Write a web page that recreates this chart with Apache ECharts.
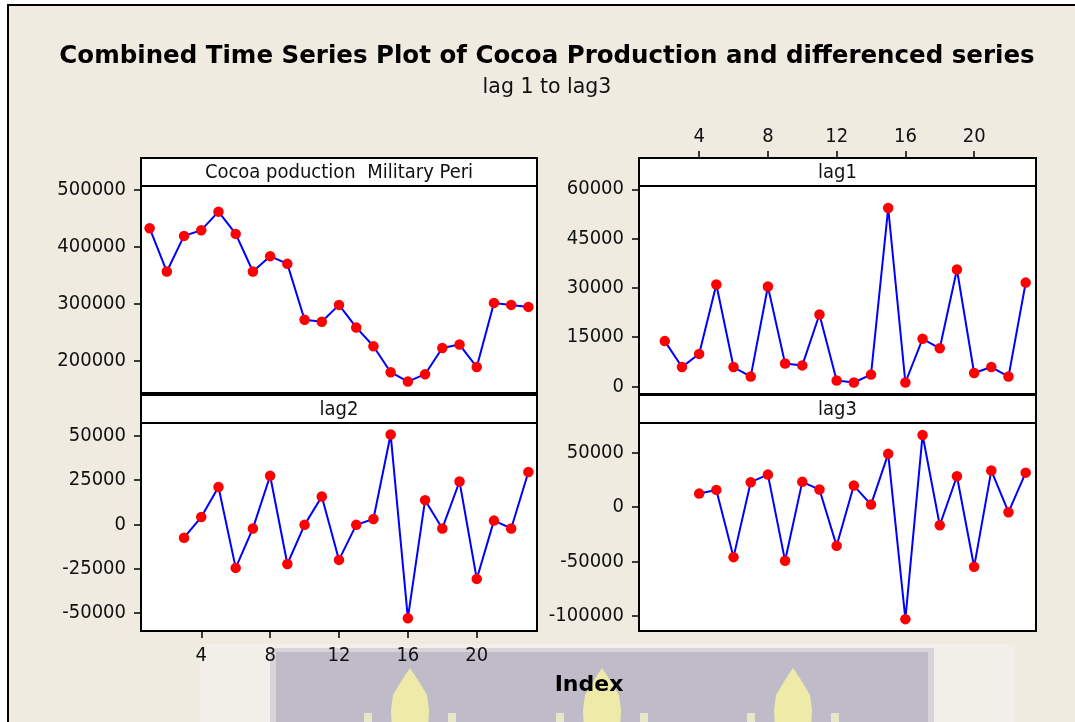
<!DOCTYPE html>
<html>
<head>
<meta charset="utf-8">
<title>Combined Time Series Plot of Cocoa Production</title>
<script src="https://cdn.jsdelivr.net/npm/echarts@6/dist/echarts.min.js"></script>
<style>
  html, body { margin: 0; padding: 0; background: #ffffff; }
  #chart { width: 1075px; height: 722px; }
</style>
</head>
<body>
<div id="chart"></div>
<script>
// Index ticks shared by the two x axes that show labels
const indexTicks = [4, 8, 12, 16, 20];

// Cocoa production, index 1..23
const cocoaStart = 1;
const cocoaProduction = [
  432000, 356000, 418500, 428500, 461000, 422000, 356000, 383000, 369500, 271500,
  268000, 297500, 258000, 225000, 179500, 163000, 176000, 222000, 228000, 188500,
  301000, 297500, 294000
];

// First differenced series, index 2..23
const lag1Start = 2;
const lag1 = [
  13800, 5900, 9900, 31000, 5900, 3000, 30400, 7000, 6400, 21900,
  1800, 1200, 3600, 54300, 1200, 14500, 11600, 35600, 4100, 5900,
  3000, 31600
];

// Second differenced series, index 3..23
const lag2Start = 3;
const lag2 = [
  -7500, 4100, 21000, -24500, -2300, 27300, -22300, -300, 15700, -20000,
  -300, 3000, 50500, -52800, 13600, -2300, 24100, -30700, 2100, -2300,
  29400
];

// Third differenced series, index 4..23
const lag3Start = 4;
const lag3 = [
  12500, 15900, -46000, 23000, 30000, -49400, 23300, 16200, -35600, 19900,
  2400, 49100, -103100, 66500, -16600, 28500, -54900, 33700, -4600, 31800
];

// Value-axis tick labels for each panel
const cocoaTicks = [200000, 300000, 400000, 500000];
const lag1Ticks = [0, 15000, 30000, 45000, 60000];
const lag2Ticks = [-50000, -25000, 0, 25000, 50000];
const lag3Ticks = [-100000, -50000, 0, 50000];

const panelTitles = ['Cocoa poduction  Military Peri', 'lag1', 'lag2', 'lag3'];

const FONT = '"DejaVu Sans Condensed", "DejaVu Sans", sans-serif';
const WIDE_FONT = '"DejaVu Sans", sans-serif';

function toPairs(values, start) {
  return values.map((v, i) => [start + i, v]);
}

// Panel plot areas (pixels)
const panels = [
  { left: 141, top: 186, width: 396, height: 207, xMax: 23.5, yMin: 143000, yMax: 506000, ticks: cocoaTicks, data: toPairs(cocoaProduction, cocoaStart), xMode: 'none' },
  { left: 639, top: 186, width: 397, height: 208, xMax: 23.6, yMin: -2300, yMax: 61000, ticks: lag1Ticks, data: toPairs(lag1, lag1Start), xMode: 'top' },
  { left: 141, top: 423, width: 396, height: 208, xMax: 23.5, yMin: -60000, yMax: 57000, ticks: lag2Ticks, data: toPairs(lag2, lag2Start), xMode: 'bottom' },
  { left: 639, top: 423, width: 397, height: 208, xMax: 23.6, yMin: -114000, yMax: 77500, ticks: lag3Ticks, data: toPairs(lag3, lag3Start), xMode: 'none' }
];
const HEADER_H = 28;

const grids = [], xAxes = [], yAxes = [], series = [], headerGraphics = [];

panels.forEach((p, i) => {
  grids.push({
    left: p.left, top: p.top, width: p.width, height: p.height,
    show: true, backgroundColor: '#ffffff', borderColor: '#000000', borderWidth: 2
  });
  const showX = p.xMode !== 'none';
  xAxes.push({
    type: 'value', gridIndex: i, min: 0.5, max: p.xMax,
    position: p.xMode === 'top' ? 'top' : 'bottom',
    offset: p.xMode === 'top' ? HEADER_H : 0,
    axisLine: { show: false, onZero: false },
    splitLine: { show: false },
    axisTick: { show: showX, length: 7, customValues: indexTicks, lineStyle: { color: '#000', width: 1.5 } },
    axisLabel: { show: showX, customValues: indexTicks, margin: p.xMode === 'top' ? 11 : 15,
      color: '#111', fontSize: 20, fontFamily: FONT }
  });
  yAxes.push({
    type: 'value', gridIndex: i, min: p.yMin, max: p.yMax,
    axisLine: { show: false, onZero: false },
    splitLine: { show: false },
    axisTick: { show: true, length: 7, customValues: p.ticks, lineStyle: { color: '#000', width: 1.5 } },
    axisLabel: { show: true, customValues: p.ticks, margin: 15, color: '#111', fontSize: 20, fontFamily: FONT,
      formatter: v => String(v) }
  });
  series.push({
    type: 'line', xAxisIndex: i, yAxisIndex: i, data: p.data,
    symbol: 'circle', symbolSize: 10.5, clip: false,
    lineStyle: { color: '#0000ff', width: 2 },
    itemStyle: { color: '#ff0000' },
    emphasis: { disabled: true },
    z: 3
  });
  // Panel heading strip
  headerGraphics.push({
    type: 'rect', z: 5,
    shape: { x: p.left, y: p.top - HEADER_H, width: p.width, height: HEADER_H },
    style: { fill: '#ffffff', stroke: '#000000', lineWidth: 2 }
  });
  headerGraphics.push({
    type: 'text', z: 6,
    x: p.left + p.width / 2, y: p.top - HEADER_H / 2 + 1,
    style: { text: panelTitles[i], fill: '#111', font: '20px ' + FONT, textAlign: 'center', textVerticalAlign: 'middle' }
  });
});

// Faint crest watermark along the bottom edge
const flameXs = [410, 602, 793];
const watermark = [
  { type: 'rect', z: -9, shape: { x: 200, y: 644, width: 815, height: 90 }, style: { fill: '#f2efe8' } },
  { type: 'rect', z: -8, shape: { x: 270, y: 648, width: 664, height: 90 }, style: { fill: '#d8d4da' } },
  { type: 'rect', z: -7, shape: { x: 276, y: 652, width: 652, height: 90 }, style: { fill: '#bfbbc9' } }
];
flameXs.forEach(cx => {
  watermark.push({
    type: 'polygon', z: -6,
    shape: { points: [[cx, 668], [cx + 8, 680], [cx + 17, 695], [cx + 19, 710], [cx + 18, 730], [cx - 18, 730], [cx - 19, 710], [cx - 17, 695], [cx - 8, 680]] },
    style: { fill: '#eeeba8' }
  });
  watermark.push({ type: 'rect', z: -6, shape: { x: cx - 46, y: 713, width: 8, height: 12 }, style: { fill: '#e8e6c8' } });
  watermark.push({ type: 'rect', z: -6, shape: { x: cx + 38, y: 713, width: 8, height: 12 }, style: { fill: '#e8e6c8' } });
});

const chart = echarts.init(document.getElementById('chart'), null, { renderer: 'canvas' });
chart.setOption({
  animation: false,
  backgroundColor: '#ffffff',
  grid: grids,
  xAxis: xAxes,
  yAxis: yAxes,
  series: series,
  graphic: [
    // Figure frame
    { type: 'rect', z: -10, shape: { x: 8, y: 5, width: 1100, height: 800 },
      style: { fill: '#efebe0', stroke: '#000000', lineWidth: 2 } }
  ].concat(watermark).concat(headerGraphics).concat([
    { type: 'text', z: 6, x: 547, y: 57,
      style: { text: 'Combined Time Series Plot of Cocoa Production and differenced series', fill: '#000',
        font: 'bold 24.5px ' + WIDE_FONT, textAlign: 'center', textVerticalAlign: 'middle' } },
    { type: 'text', z: 6, x: 547, y: 88,
      style: { text: 'lag 1 to lag3', fill: '#111', font: '20.5px ' + WIDE_FONT, textAlign: 'center', textVerticalAlign: 'middle' } },
    { type: 'text', z: 6, x: 589, y: 685,
      style: { text: 'Index', fill: '#000', font: 'bold 22px ' + WIDE_FONT, textAlign: 'center', textVerticalAlign: 'middle' } }
  ])
});
</script>
</body>
</html>
